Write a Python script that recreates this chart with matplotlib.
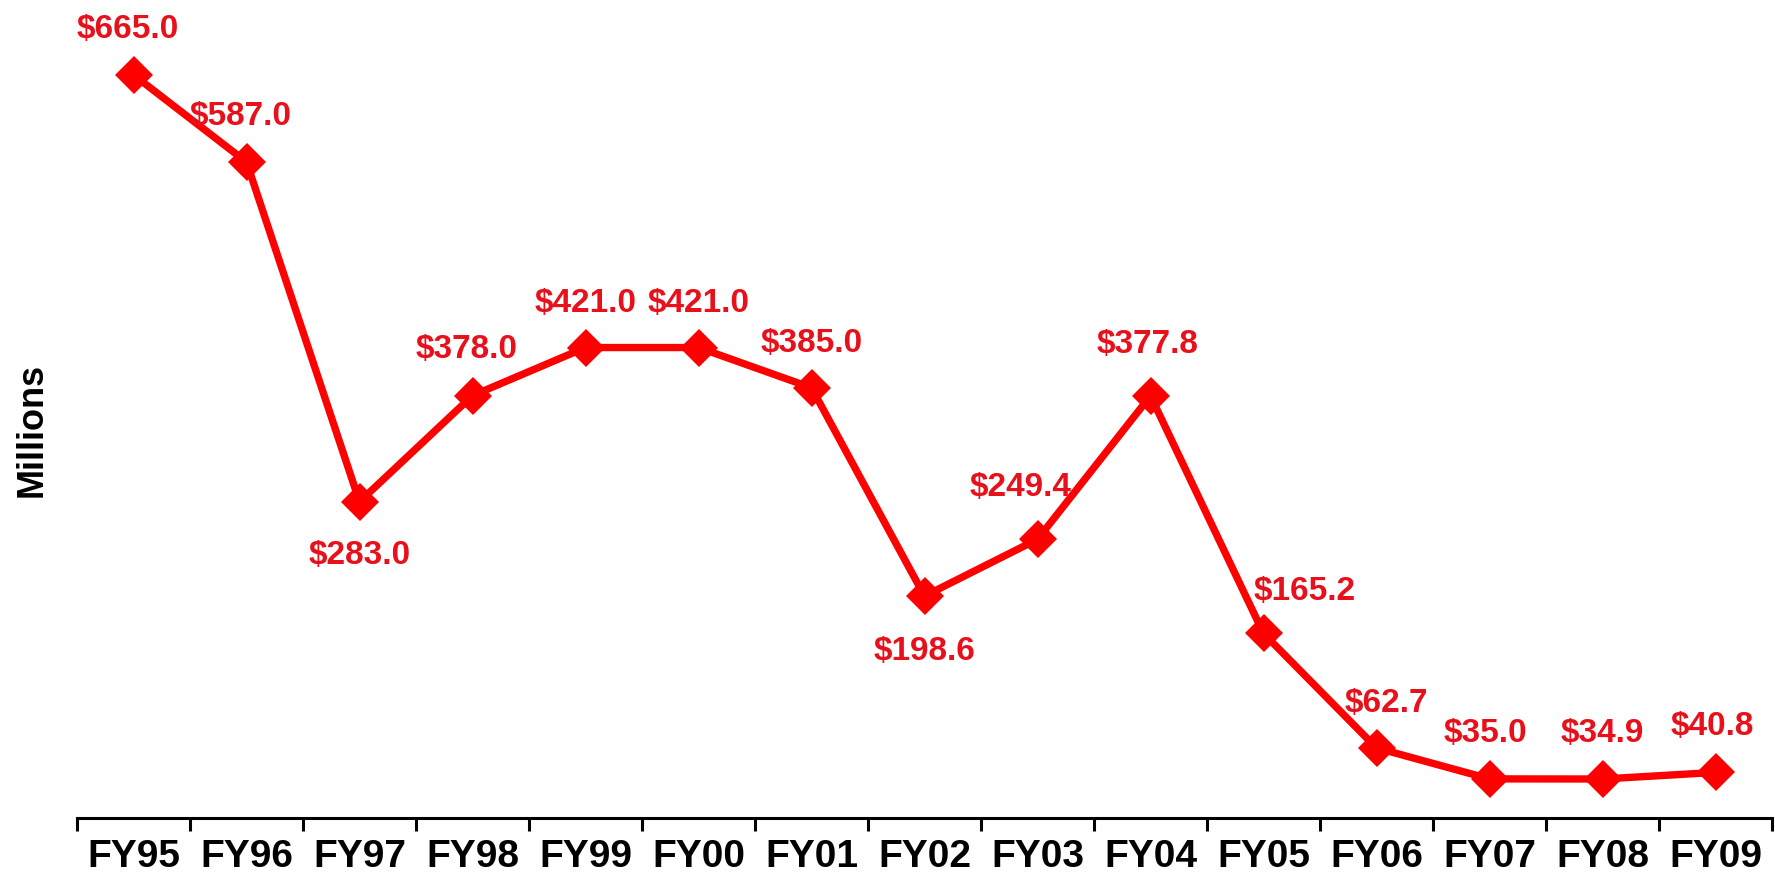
import matplotlib
matplotlib.use('Agg')
import matplotlib.pyplot as plt
from matplotlib import rcParams

rcParams['font.family'] = ['Liberation Sans', 'DejaVu Sans']

# Data
years = ["FY95", "FY96", "FY97", "FY98", "FY99", "FY00", "FY01", "FY02",
         "FY03", "FY04", "FY05", "FY06", "FY07", "FY08", "FY09"]
values = [665.0, 587.0, 283.0, 378.0, 421.0, 421.0, 385.0, 198.6,
          249.4, 377.8, 165.2, 62.7, 35.0, 34.9, 40.8]

# label offsets in points (dx, dy) relative to each point
label_offsets = [(-4, 33), (-4, 33), (0, -39), (-4, 33), (0, 32), (0, 32), (0, 32),
                 (0, -40), (-12, 37), (-2, 37), (30, 30), (7, 32), (-3, 33), (0, 33), (-2, 33)]

fig = plt.figure(figsize=(17.75, 8.77), dpi=100)
ax = fig.add_axes([77 / 1775, 59 / 877, 1695 / 1775, 818 / 877])

x = list(range(len(years)))
ax.plot(x, values, color="#ff0000", linewidth=5.3, marker="D", markersize=19,
        markeredgewidth=0, clip_on=False, zorder=3)

for i, v in enumerate(values):
    dx, dy = label_offsets[i]
    ax.annotate(f"${v:.1f}", (i, v), xytext=(dx, dy), textcoords="offset points",
                ha="center", va="center", color="#e8101a", fontsize=24,
                fontweight="bold", annotation_clip=False)

ax.set_xlim(-0.5, len(years) - 0.5)
ax.set_ylim(0, 732)

# ticks between categories, labels at the centres
ax.set_xticks([i - 0.5 for i in range(len(years) + 1)])
ax.set_xticklabels([])
ax.set_xticks(x, minor=True)
ax.set_xticklabels(years, minor=True, fontsize=28, fontweight="bold")
ax.tick_params(axis="x", which="major", direction="out", length=9, width=2.2, color="black")
ax.tick_params(axis="x", which="minor", length=0, pad=15)
ax.set_yticks([])

for side in ["top", "right", "left"]:
    ax.spines[side].set_visible(False)
ax.spines["bottom"].set_linewidth(2.2)

fig.text(32 / 1775, 1 - 430 / 877, "Millions", rotation=90, ha="center", va="center",
         fontsize=26, fontweight="bold")

fig.savefig("out.png", dpi=100)
